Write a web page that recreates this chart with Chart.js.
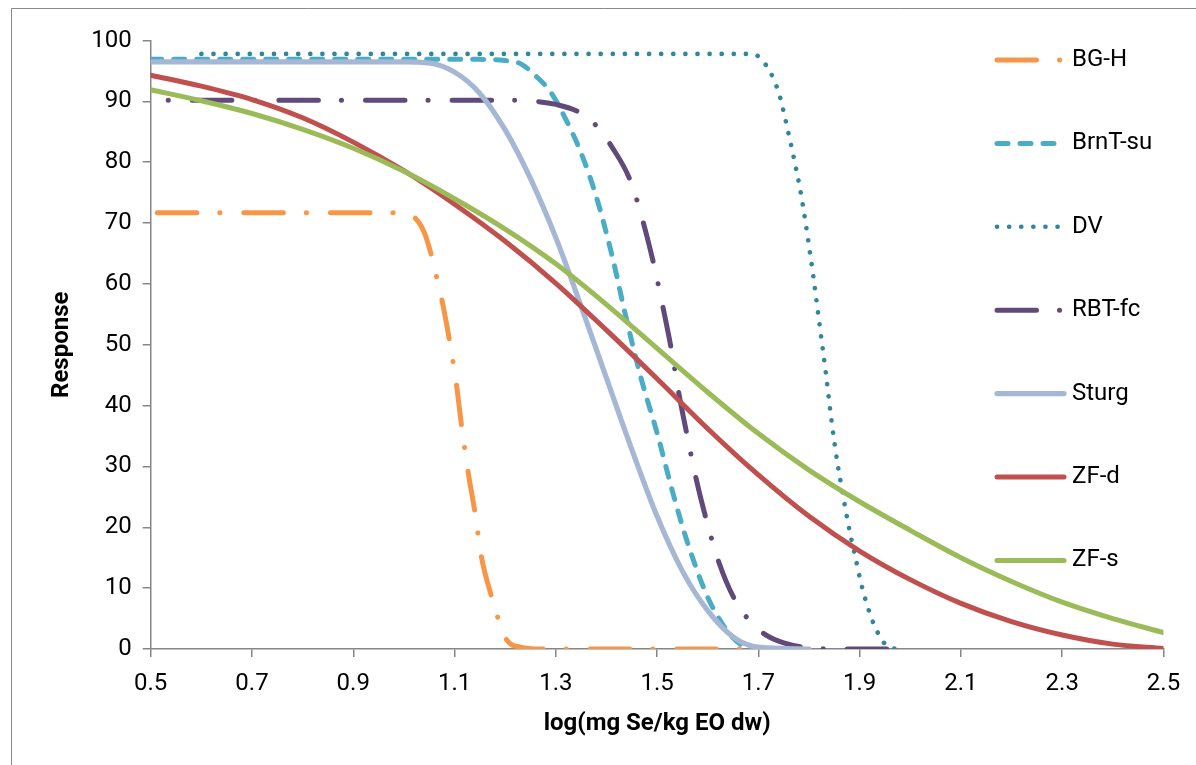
<!DOCTYPE html>
<html>
<head>
<meta charset="utf-8">
<script src="https://cdn.jsdelivr.net/npm/chart.js@4.4.1/dist/chart.umd.min.js"></script>
<style>
  html, body { margin: 0; padding: 0; background: #fff; }
  #wrap { width: 1196px; height: 765px; position: relative; }
</style>
</head>
<body>
<div id="wrap"><canvas id="responseChart"></canvas></div>
<script>
// values
const bghX = [0.513, 1.0, 1.02, 1.04, 1.055, 1.065, 1.075, 1.09, 1.104, 1.114, 1.127, 1.14, 1.153, 1.173, 1.186, 1.203, 1.23, 1.27, 1.7];
const bghY = [71.7, 71.7, 71.0, 68.5, 64.5, 61.0, 57.4, 50.7, 43.3, 36.6, 29.0, 22.6, 15.2, 8.6, 5.0, 1.5, 0.3, 0, 0];

const brntX = [0.5, 1.15, 1.2, 1.23, 1.26, 1.29, 1.32, 1.35, 1.38, 1.41, 1.44, 1.47, 1.5, 1.53, 1.56, 1.6, 1.64, 1.67, 1.7];
const brntY = [96.9, 96.9, 96.7, 96.2, 94.2, 91.5, 87.0, 81.5, 74.3, 65.0, 54.0, 44.0, 35.5, 26.0, 17.5, 8.5, 2.8, 0.5, 0];

const dvX = [0.6, 1.68, 1.70, 1.71, 1.723, 1.741, 1.752, 1.762, 1.772, 1.781, 1.789, 1.796, 1.809, 1.821, 1.833, 1.844, 1.857, 1.865, 1.873, 1.882, 1.892, 1.902, 1.914, 1.93, 1.954, 1.976];
const dvY = [97.8, 97.8, 97.4, 96.5, 94.9, 91.2, 87.5, 83.8, 79.9, 76.2, 72.3, 68.5, 60.9, 53.2, 45.5, 37.8, 30.1, 26.3, 22.5, 18.7, 14.9, 11.1, 7.4, 3.7, 0.5, 0];

const rbtX = [0.5, 1.2, 1.26, 1.3, 1.344, 1.38, 1.41, 1.447, 1.473, 1.494, 1.512, 1.528, 1.543, 1.559, 1.577, 1.597, 1.623, 1.654, 1.68, 1.713, 1.75, 1.8, 1.85, 1.96];
const rbtY = [90.2, 90.2, 90.0, 89.5, 88.3, 86.0, 82.6, 77.0, 70.0, 63.0, 56.0, 49.3, 42.0, 35.2, 28.0, 21.3, 14.0, 8.0, 4.9, 2.4, 1.0, 0.2, 0, 0];

const sturgX = [0.5, 1.0, 1.05, 1.1, 1.15, 1.2, 1.25, 1.3, 1.35, 1.4, 1.45, 1.5, 1.55, 1.6, 1.65, 1.7, 1.8];
const sturgY = [96.5, 96.5, 96.3, 94.8, 91.3, 85.3, 77.3, 67.6, 56.3, 44.5, 32.8, 21.8, 12.8, 6.3, 2.0, 0.3, 0];

const zfX = [0.5, 0.6, 0.7, 0.8, 0.9, 1.0, 1.1, 1.2, 1.3, 1.4, 1.5, 1.6, 1.7, 1.8, 1.9, 2.0, 2.1, 2.2, 2.3, 2.4, 2.5];
const zfdY = [94.3, 92.5, 90.3, 87.3, 83.3, 78.6, 73.1, 67.0, 60.1, 52.4, 44.4, 36.2, 28.6, 21.8, 16.1, 11.4, 7.5, 4.5, 2.3, 0.8, 0.1];
const zfsY = [91.9, 90.1, 88.0, 85.4, 82.3, 78.5, 74.0, 69.0, 63.3, 56.6, 49.4, 42.2, 35.4, 29.4, 24.2, 19.5, 15.0, 11.1, 7.7, 5.0, 2.7];

const xTicks = [0.5, 0.7, 0.9, 1.1, 1.3, 1.5, 1.7, 1.9, 2.1, 2.3, 2.5];
const yTicks = [0, 10, 20, 30, 40, 50, 60, 70, 80, 90, 100];

const toPoints = (xs, ys) => xs.map((x, i) => ({ x: x, y: ys[i] }));

const dashDot = [39.5, 23, 0.1, 24];

const series = [
  { label: 'BG-H', xs: bghX, ys: bghY, color: '#F79646', width: 5, dash: dashDot, offset: 0 },
  { label: 'BrnT-su', xs: brntX, ys: brntY, color: '#4BACC6', width: 5, dash: [11, 12], offset: 0 },
  { label: 'DV', xs: dvX, ys: dvY, color: '#31859C', width: 4.6, dash: [0.1, 12], offset: 0 },
  { label: 'RBT-fc', xs: rbtX, ys: rbtY, color: '#604A7B', width: 5, dash: dashDot, offset: 45 },
  { label: 'Sturg', xs: sturgX, ys: sturgY, color: '#A6B6D5', width: 5.2, dash: [], offset: 0 },
  { label: 'ZF-d', xs: zfX, ys: zfdY, color: '#C0504D', width: 5, dash: [], offset: 0 },
  { label: 'ZF-s', xs: zfX, ys: zfsY, color: '#9BBB59', width: 5, dash: [], offset: 0 }
];

const FONT = 'Roboto';
const axisGray = '#868686';

// legend on the right + outer frame (only top and left edges show)
const sideLegend = {
  id: 'sideLegend',
  afterDraw(chart) {
    const ctx = chart.ctx;
    ctx.save();
    ctx.strokeStyle = '#8a8a8a';
    ctx.lineWidth = 1;
    ctx.beginPath();
    ctx.moveTo(11.5, 765);
    ctx.lineTo(11.5, 8.5);
    ctx.lineTo(1196, 8.5);
    ctx.stroke();

    chart.data.datasets.forEach((ds, i) => {
      const y = 60 + i * 83.4;
      ctx.strokeStyle = ds.borderColor;
      ctx.lineWidth = ds.borderWidth;
      ctx.lineCap = 'round';
      ctx.setLineDash(ds.borderDash);
      ctx.lineDashOffset = 0;
      ctx.beginPath();
      ctx.moveTo(997, y);
      ctx.lineTo(1064, y);
      ctx.stroke();
      ctx.setLineDash([]);
      ctx.fillStyle = '#000';
      ctx.font = '24px ' + FONT;
      ctx.textAlign = 'left';
      ctx.textBaseline = 'middle';
      ctx.fillText(ds.label, 1072, y);
    });
    ctx.restore();
  }
};

const ctx = document.getElementById('responseChart').getContext('2d');
new Chart(ctx, {
  type: 'line',
  data: {
    datasets: series.map((s, i) => ({
      label: s.label,
      data: toPoints(s.xs, s.ys),
      borderColor: s.color,
      backgroundColor: s.color,
      borderWidth: s.width,
      borderDash: s.dash,
      borderDashOffset: s.offset,
      borderCapStyle: 'round',
      borderJoinStyle: 'round',
      cubicInterpolationMode: 'monotone',
      pointRadius: 0,
      fill: false,
      order: series.length - i
    }))
  },
  options: {
    responsive: true,
    maintainAspectRatio: false,
    animation: false,
    layout: { padding: { top: 40.5, right: 32.5, bottom: 0, left: 0 } },
    plugins: {
      legend: { display: false },
      tooltip: { enabled: false }
    },
    scales: {
      x: {
        type: 'linear',
        min: 0.5,
        max: 2.5,
        afterBuildTicks: axis => { axis.ticks = xTicks.map(v => ({ value: v })); },
        afterFit: axis => { axis.height = 116; axis.paddingLeft = 0; axis.paddingRight = 0; },
        ticks: {
          autoSkip: false,
          maxRotation: 0,
          padding: 13,
          color: '#000',
          font: { family: FONT, size: 24 },
          callback: v => v.toFixed(1)
        },
        grid: { drawOnChartArea: false, drawTicks: true, tickLength: 8, color: axisGray, lineWidth: 1.5 },
        border: { display: true, color: axisGray, width: 1.5 },
        title: {
          display: true,
          text: 'log(mg Se/kg EO dw)',
          color: '#000',
          font: { family: FONT, size: 24, weight: 'bold' },
          padding: { top: 0, bottom: 26.6 }
        }
      },
      y: {
        min: 0,
        max: 100,
        afterBuildTicks: axis => { axis.ticks = yTicks.map(v => ({ value: v })); },
        afterFit: axis => { axis.width = 150.7; axis.paddingTop = 0; axis.paddingBottom = 0; },
        ticks: {
          padding: 11,
          color: '#000',
          font: { family: FONT, size: 24 }
        },
        grid: { drawOnChartArea: false, drawTicks: true, tickLength: 8, color: axisGray, lineWidth: 1.5 },
        border: { display: true, color: axisGray, width: 1.5 },
        title: {
          display: true,
          text: 'Response',
          color: '#000',
          font: { family: FONT, size: 24, weight: 'bold' },
          padding: { top: 47.6, bottom: 0 }
        }
      }
    }
  },
  plugins: [sideLegend]
});
</script>
</body>
</html>
